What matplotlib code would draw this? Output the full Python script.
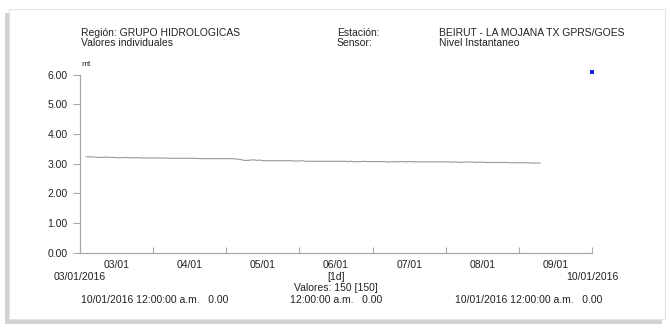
import matplotlib
matplotlib.use("Agg")
import matplotlib.pyplot as plt
from matplotlib.patches import Rectangle
import pandas as pd

plt.rcParams['font.family'] = ['Liberation Sans', 'DejaVu Sans']

# ---- data ----
start_time = "2016-01-03 02:00"
n_values = 150
levels = [
    3.23, 3.23, 3.23, 3.22, 3.21, 3.21, 3.22, 3.22, 3.21, 3.21,
    3.20, 3.20, 3.20, 3.21, 3.20, 3.20, 3.20, 3.20, 3.19, 3.19,
    3.19, 3.19, 3.19, 3.19, 3.19, 3.19, 3.19, 3.18, 3.18, 3.18,
    3.18, 3.18, 3.18, 3.18, 3.18, 3.18, 3.18, 3.17, 3.17, 3.17,
    3.17, 3.17, 3.17, 3.17, 3.17, 3.17, 3.17, 3.17, 3.17, 3.16,
    3.15, 3.13, 3.11, 3.11, 3.12, 3.13, 3.11, 3.12, 3.10, 3.10,
    3.10, 3.10, 3.10, 3.10, 3.10, 3.10, 3.10, 3.10, 3.09, 3.09,
    3.09, 3.10, 3.08, 3.08, 3.08, 3.08, 3.08, 3.08, 3.08, 3.08,
    3.08, 3.08, 3.08, 3.08, 3.08, 3.08, 3.07, 3.08, 3.06, 3.07,
    3.07, 3.08, 3.07, 3.07, 3.07, 3.07, 3.07, 3.07, 3.07, 3.05,
    3.06, 3.07, 3.06, 3.07, 3.07, 3.06, 3.07, 3.07, 3.06, 3.06,
    3.06, 3.06, 3.06, 3.06, 3.06, 3.06, 3.06, 3.06, 3.06, 3.06,
    3.05, 3.06, 3.05, 3.04, 3.05, 3.06, 3.05, 3.05, 3.04, 3.05,
    3.05, 3.04, 3.04, 3.04, 3.04, 3.04, 3.04, 3.04, 3.04, 3.03,
    3.03, 3.03, 3.03, 3.03, 3.03, 3.03, 3.02, 3.02, 3.02, 3.02,
]
day_ticks = ["2016-01-03", "2016-01-04", "2016-01-05", "2016-01-06",
             "2016-01-07", "2016-01-08", "2016-01-09", "2016-01-10"]
day_labels = ["03/01", "04/01", "05/01", "06/01", "07/01", "08/01", "09/01"]
y_ticks = [0.0, 1.0, 2.0, 3.0, 4.0, 5.0, 6.0]
marker_time = "2016-01-10"
marker_value = 6.09

times = pd.date_range(start_time, periods=n_values, freq="h")
tick_dates = pd.to_datetime(day_ticks)

W, H = 670, 328
fig = plt.figure(figsize=(W / 100, H / 100), dpi=100)
fig.patch.set_facecolor("white")

def fx(px):
    return px / W

def fy(py):
    return 1 - py / H

# card frame with soft shadow (left and bottom)
fig.patches.append(Rectangle((fx(5), fy(324)), fx(662 - 5), (324 - 13) / H,
                             transform=fig.transFigure, facecolor="#d2d2d2",
                             edgecolor="none", zorder=0))
fig.patches.append(Rectangle((fx(9), fy(319)), fx(665 - 9), (319 - 9) / H,
                             transform=fig.transFigure, facecolor="white",
                             edgecolor="#e2e2e2", linewidth=0.8, zorder=0.5))

ax = fig.add_axes([fx(80), fy(252.6), fx(592 - 80), (252.6 - 74.7) / H])
ax.set_zorder(2)
ax.set_facecolor("none")
ax.plot(times, levels, color="#9a9a9a", linewidth=0.8)
ax.plot([pd.Timestamp(marker_time)], [marker_value], marker="s", markersize=2.4,
        markeredgewidth=0, color="#2020e8", linestyle="none", clip_on=False)

ax.set_xlim(tick_dates[0], tick_dates[-1])
ax.set_ylim(0, 6)
for s in ["top", "right"]:
    ax.spines[s].set_visible(False)
for s in ["left", "bottom"]:
    ax.spines[s].set_color("#a8a8a8")
    ax.spines[s].set_linewidth(0.9)

ax.set_yticks(y_ticks)
ax.set_yticklabels([f"{v:.2f}" for v in y_ticks])
ax.tick_params(axis="y", direction="out", length=5, width=0.8, color="#a8a8a8",
               labelsize=7.5, pad=4, labelcolor="#222222")
ax.set_xticks(tick_dates)
ax.set_xticklabels([])
ax.tick_params(axis="x", direction="in", length=4, width=0.8, color="#a8a8a8")
mid_days = tick_dates[:-1] + pd.Timedelta(hours=12)
for d, lab in zip(mid_days, day_labels):
    ax.text(d, -0.25, lab, ha="center", va="top", fontsize=7.5, color="#222222")

txt = dict(fontsize=7.5, color="#222222", transform=fig.transFigure, zorder=3)
fig.text(fx(81), fy(33), "Región: GRUPO HIDROLOGICAS", ha="left", va="center", **txt)
fig.text(fx(81), fy(43), "Valores individuales", ha="left", va="center", **txt)
fig.text(fx(337), fy(33), "Estación:", ha="left", va="center", **txt)
fig.text(fx(337), fy(43), "Sensor:", ha="left", va="center", **txt)
fig.text(fx(439), fy(33), "BEIRUT - LA MOJANA TX GPRS/GOES", ha="left", va="center", **txt)
fig.text(fx(439), fy(43), "Nivel Instantaneo", ha="left", va="center", **txt)
fig.text(fx(81), fy(64), "mt", ha="left", va="center", fontsize=6, color="#222222",
         transform=fig.transFigure, zorder=3)

fig.text(fx(80), fy(277), "03/01/2016", ha="center", va="center", **txt)
fig.text(fx(592), fy(277), "10/01/2016", ha="center", va="center", **txt)
fig.text(fx(336), fy(277), "[1d]", ha="center", va="center", **txt)
fig.text(fx(336), fy(288), "Valores: 150 [150]", ha="center", va="center", **txt)
fig.text(fx(336), fy(300), "12:00:00 a.m.   0.00", ha="center", va="center", **txt)
fig.text(fx(81), fy(300), "10/01/2016 12:00:00 a.m.   0.00", ha="left", va="center", **txt)
fig.text(fx(455), fy(300), "10/01/2016 12:00:00 a.m.   0.00", ha="left", va="center", **txt)

fig.savefig("out.png", dpi=100, facecolor="white")
